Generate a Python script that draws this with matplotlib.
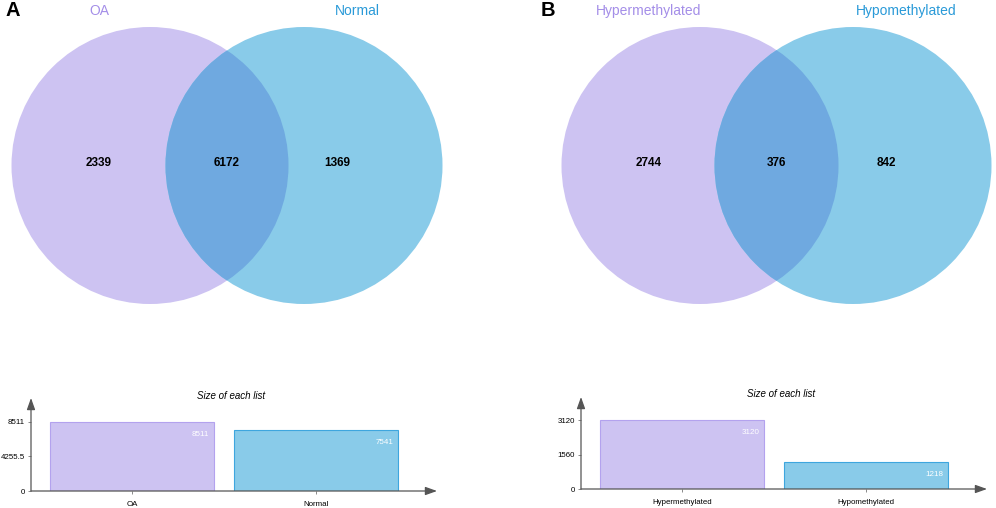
import matplotlib.pyplot as plt
from matplotlib.patches import Circle

plt.rcParams["font.family"] = ["Liberation Sans", "DejaVu Sans"]

# data
venn_a_names = ["OA", "Normal"]
venn_a_counts = [2339, 6172, 1369]
venn_b_names = ["Hypermethylated", "Hypomethylated"]
venn_b_counts = [2744, 376, 842]
size_a = [8511, 7541]
size_b = [3120, 1218]

purple = "#cdc3f2"
blue = "#89cbe9"
overlap = "#6fa9e0"
purple_txt = "#a48ee8"
blue_txt = "#2a9ad8"
purple_edge = "#b3a2ee"
blue_edge = "#3ea6de"

W, H = 996, 508
fig = plt.figure(figsize=(W / 100, H / 100), dpi=100)

# venn layer in pixel coordinates
ax = fig.add_axes([0, 0, 1, 1])
ax.set_xlim(0, W)
ax.set_ylim(H, 0)
ax.axis("off")


def venn(cx1, cx2, cy, r, names, counts, panel, px):
    c1 = Circle((cx1, cy), r, color=purple, lw=0)
    c2 = Circle((cx2, cy), r, color=blue, lw=0)
    ax.add_patch(c1)
    ax.add_patch(c2)
    lens = Circle((cx2, cy), r, color=overlap, lw=0)
    ax.add_patch(lens)
    lens.set_clip_path(c1)
    ax.text(cx1 - 51, 11, names[0], color=purple_txt, fontsize=10, ha="center", va="center")
    ax.text(cx2 + 53, 11, names[1], color=blue_txt, fontsize=10, ha="center", va="center")
    xs = [cx1 - 51, (cx1 + cx2) / 2, cx2 + 33]
    for x, n in zip(xs, counts):
        ax.text(x, 163, str(n), fontsize=8.5, fontweight="bold", ha="center", va="center")
    ax.text(px, 11, panel, fontsize=14.5, fontweight="bold", ha="center", va="center")


venn(150, 304, 165.5, 138.5, venn_a_names, venn_a_counts, "A", 13)
venn(700, 853, 165.5, 138.5, venn_b_names, venn_b_counts, "B", 548)


def sizes(left, right, bottom, top, names, vals, title_y):
    bx = fig.add_axes([left / W, (H - bottom) / H, (right - left) / W, (bottom - top) / H])
    xs = list(range(len(vals)))
    bx.bar(xs, vals, width=0.89, color=[purple, blue],
           edgecolor=[purple_edge, blue_edge], linewidth=0.8)
    vmax = max(vals)
    bx.set_xlim(-0.551, 1.658)
    bx.set_ylim(0, vmax * 1.34)
    for s in bx.spines.values():
        s.set_visible(False)
    bx.annotate("", xy=(1, 0), xytext=(0, 0), xycoords="axes fraction",
                arrowprops=dict(arrowstyle="-|>,head_length=0.7,head_width=0.25",
                                color="#555555", lw=0.9, shrinkA=0, shrinkB=0))
    bx.annotate("", xy=(0, 1), xytext=(0, 0), xycoords="axes fraction",
                arrowprops=dict(arrowstyle="-|>,head_length=0.7,head_width=0.25",
                                color="#555555", lw=0.9, shrinkA=0, shrinkB=0))
    half = vmax / 2
    bx.set_yticks([0, half, vmax])
    bx.set_yticklabels(["0", f"{half:g}", str(vmax)])
    bx.set_xticks(xs)
    bx.set_xticklabels(names)
    bx.tick_params(labelsize=5.7, length=2.5, width=0.6, color="#777777", pad=2)
    bx.tick_params(axis="x", pad=4.5)
    for x, v in zip(xs, vals):
        bx.annotate(str(v), xy=(x + 0.42, v), xytext=(0, -6.5), textcoords="offset points",
                    ha="right", va="top", color="white", fontsize=5.8)
    fig.text((left + right) / 2 / W - 0.003, (H - title_y) / H, "Size of each list",
             fontsize=7, style="italic", ha="center", va="center")


sizes(31, 437, 491, 398, venn_a_names, size_a, 396)
sizes(581, 987, 489, 397, venn_b_names, size_b, 394)

fig.savefig("out.png", dpi=100)
